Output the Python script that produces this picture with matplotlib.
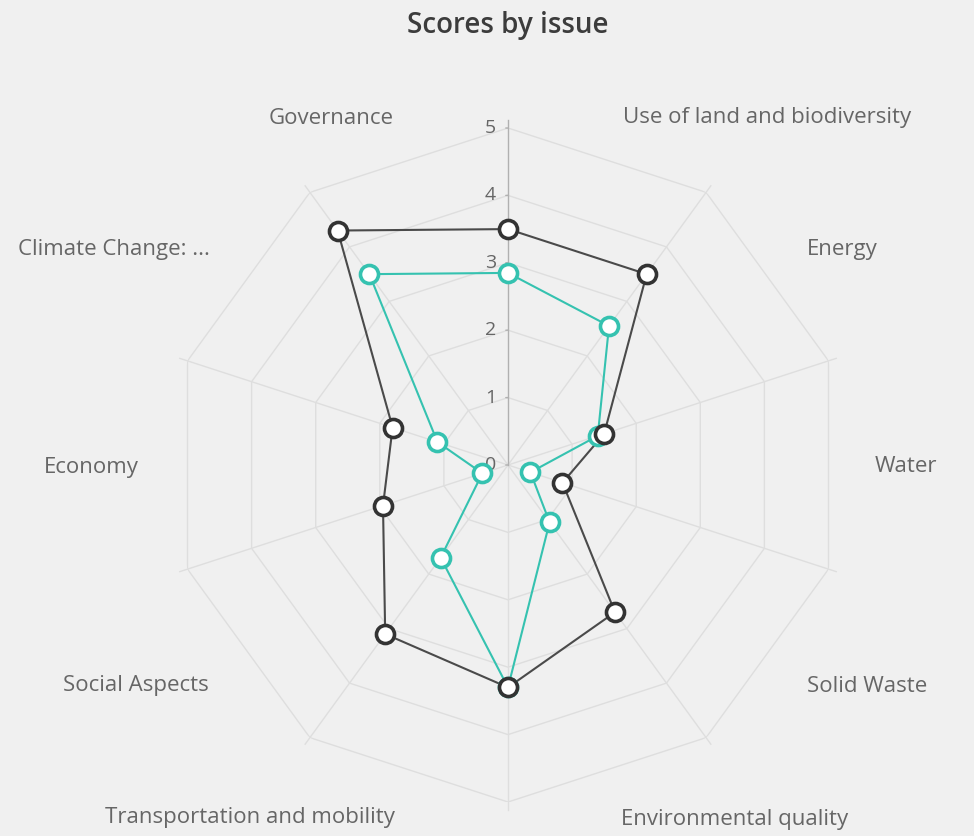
import numpy as np
import matplotlib
matplotlib.use("Agg")
import matplotlib.pyplot as plt

plt.rcParams['font.family'] = ['Open Sans', 'DejaVu Sans']

# spokes clockwise from the top
categories = ["Governance", "Use of land and biodiversity", "Energy", "Water",
              "Solid Waste", "Environmental quality", "Transportation and mobility",
              "Social Aspects", "Economy", "Climate Change: ..."]
score_dark = [3.5, 3.5, 1.5, 0.85, 2.7, 3.3, 3.1, 1.95, 1.8, 4.3]
score_teal = [2.85, 2.55, 1.4, 0.35, 1.05, 3.3, 1.7, 0.4, 1.1, 3.5]
ticks = [0, 1, 2, 3, 4, 5]

# where the category labels sit in the picture (pixel centres)
label_pos = [(331, 118), (767, 118), (842, 250), (906, 467), (867, 686),
             (735, 819), (250, 818), (136, 686), (91, 467), (114, 250)]

W, H = 974, 836
bg = '#f0f0f0'
grid_c = '#dedede'
dark_c = '#333333'
teal_c = '#35c2b0'

fig = plt.figure(figsize=(W / 100, H / 100), dpi=100)
fig.patch.set_facecolor(bg)

cx, cy, R = 508, 465, 337
ax = fig.add_axes([(cx - R) / W, (H - cy - R) / H, 2 * R / W, 2 * R / H], projection='polar')
ax.set_facecolor('none')
ax.set_theta_zero_location('N')
ax.set_theta_direction(-1)
ax.set_ylim(0, ticks[-1])
ax.grid(False)
ax.spines['polar'].set_visible(False)
ax.set_xticks([])
ax.set_yticks([])

n = len(categories)
theta = np.arange(n) * 2 * np.pi / n
theta_closed = np.append(theta, theta[0])

# decagon grid
for t in ticks[1:]:
    ax.plot(theta_closed, [t] * (n + 1), color=grid_c, lw=1, zorder=1)
for th in theta[1:]:
    ax.plot([th, th], [0, 5.12], color=grid_c, lw=1, zorder=1, clip_on=False)

# value axis on the top spoke
ax.plot([0, 0], [0, 5.12], color='#b0b0b0', lw=1, zorder=2, clip_on=False)
for t in ticks:
    ax.annotate('', xy=(0, t), xytext=(-5, 0), textcoords='offset pixels',
                arrowprops=dict(arrowstyle='-', color='#b0b0b0', lw=1))
    ax.annotate(str(t), xy=(0, t), xytext=(-12, 0), textcoords='offset pixels',
                ha='right', va='center', fontsize=14, color='#666666')


def draw(values, color, line_c):
    v = np.append(values, values[0])
    ax.plot(theta_closed, v, color=line_c, lw=1.5, zorder=3, clip_on=False)
    ax.plot(theta, values, 'o', ms=13, mfc='white', mec=color, mew=2.6,
            zorder=4, clip_on=False)


draw(score_teal, teal_c, teal_c)
draw(score_dark, dark_c, '#4a4a4a')

for name, (x, y) in zip(categories, label_pos):
    fig.text(x / W, 1 - y / H, name, ha='center', va='center',
             fontsize=16, color='#666666')

fig.text(cx / W, 1 - 26 / H, "Scores by issue", ha='center', va='center',
         fontsize=20, fontweight='semibold', color='#3c3c3c')

fig.savefig('out.png', dpi=100, facecolor=bg)
